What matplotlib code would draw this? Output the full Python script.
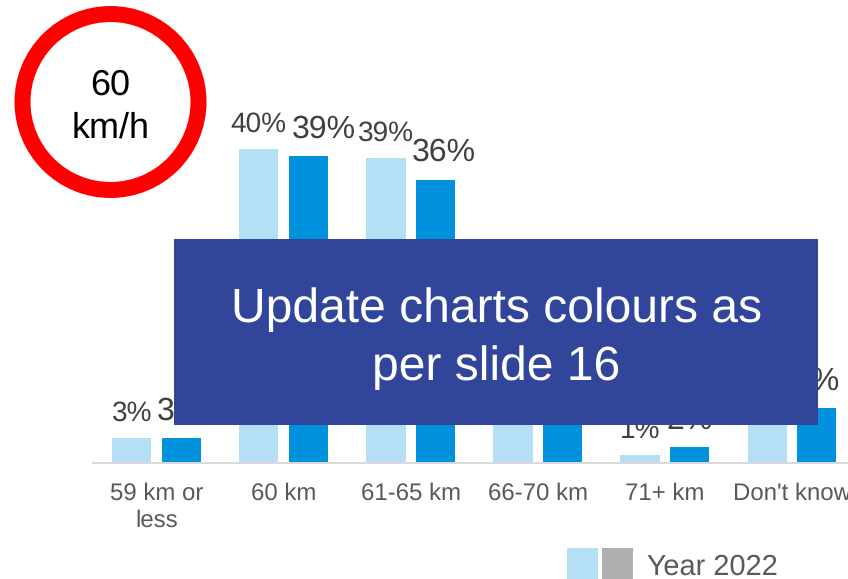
import matplotlib
matplotlib.use("Agg")
import matplotlib.pyplot as plt
from matplotlib.patches import Circle, Rectangle
import numpy as np

plt.rcParams['font.family'] = ['Liberation Sans', 'DejaVu Sans']
plt.rcParams['text.hinting'] = 'no_hinting'
plt.rcParams['text.hinting_factor'] = 1

categories = ["59 km or\nless", "60 km", "61-65 km", "66-70 km", "71+ km", "Don't know"]
# 66-70 km and light Don't know are hidden behind the box, so those are guesses
year_light = [3.2, 40.0, 38.9, 10.0, 1.0, 6.0]
year_dark = [3.2, 39.1, 36.1, 9.0, 2.0, 7.0]
# sideways nudges of the dark labels, px
dark_shift = [-1, 15.5, 8, 0, 0, 0]

W, H = 848, 579
BASE_Y = 463
PX_PER_UNIT = 7.85
px = 72 / 100  # points per pixel

fig = plt.figure(figsize=(W / 100, H / 100), dpi=100)
ax = fig.add_axes([93 / W, (H - BASE_Y) / H, (W - 93) / W, BASE_Y / H])
ax.patch.set_alpha(0)

x = np.arange(len(categories))
step = 127.1
bar_w = 39.3 / step
gap = 49.6 / step
bars1 = ax.bar(x - gap / 2, year_light, bar_w, color="#b5dff5")
bars2 = ax.bar(x + gap / 2, year_dark, bar_w, color="#0092dc")

ax.set_xlim(-63.5 / step, (W - 156.5) / step)
ax.set_ylim(0, BASE_Y / PX_PER_UNIT)

for b, v in zip(bars1, year_light):
    ax.annotate("%.0f%%" % v, (b.get_x() + b.get_width() / 2, v), xytext=(0, 17 * px),
                textcoords="offset points", ha="center", va="baseline",
                fontsize=20.2, color="#404040")
for b, v, s in zip(bars2, year_dark, dark_shift):
    ax.annotate("%.0f%%" % v, (b.get_x() + b.get_width() / 2, v), xytext=(s * px, 18.5 * px),
                textcoords="offset points", ha="center", va="baseline",
                fontsize=23, color="#404040")

for s in ["top", "left", "right"]:
    ax.spines[s].set_visible(False)
ax.spines["bottom"].set_color("#d9d9d9")
ax.spines["bottom"].set_linewidth(2 * px)
ax.set_yticks([])
ax.set_xticks(x)
ax.set_xticklabels(categories, fontsize=17, color="#595959", linespacing=1.29)
ax.tick_params(axis="x", length=0, pad=13.8)

# overlay in pixel coords: sign, box and legend
ov = fig.add_axes([0, 0, 1, 1])
ov.set_xlim(0, W)
ov.set_ylim(H, 0)
ov.axis("off")

ov.add_patch(Circle((110.5, 102), 88, facecolor="white", edgecolor="#ff0000", linewidth=16 * px))
ov.text(110.5, 95, "60", ha="center", va="baseline", fontsize=25.8, color="black")
ov.text(110.5, 138, "km/h", ha="center", va="baseline", fontsize=25.8, color="black")

ov.add_patch(Rectangle((174, 239), 644, 186, facecolor="#31459b", edgecolor="none"))
ov.text(496.5, 322, "Update charts colours as", ha="center", va="baseline", fontsize=34.3, color="white")
ov.text(496.5, 380, "per slide 16", ha="center", va="baseline", fontsize=34.3, color="white")

ov.add_patch(Rectangle((567, 548), 31, 31, facecolor="#b5dff5", edgecolor="none"))
ov.add_patch(Rectangle((602, 548), 31, 31, facecolor="#b0b0b0", edgecolor="none"))
ov.text(647, 575, "Year 2022", ha="left", va="baseline", fontsize=21.1, color="#595959")

fig.savefig("out.png", dpi=100)
